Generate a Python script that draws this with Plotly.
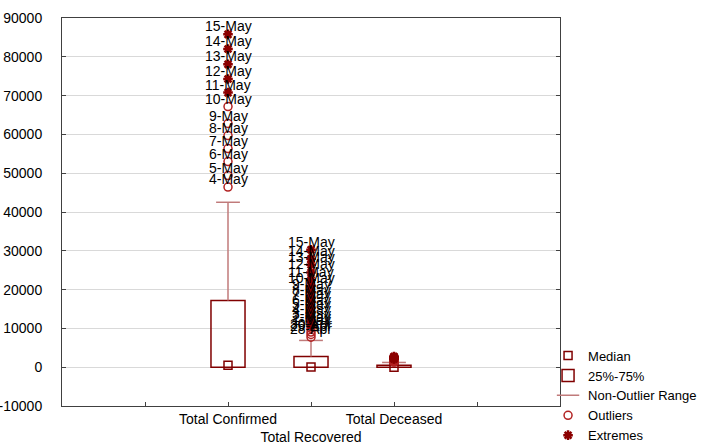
import plotly.graph_objects as go

# ---------------- data ----------------
categories = ["Total Confirmed", "Total Recovered", "Total Deceased"]
q1 = [3, 0, 0]
medians = [499, 45, 10]
q3 = [17200, 2750, 520]
non_outlier_max = [42505, 6900, 1223]

conf_outlier_dates = ["4-May", "5-May", "6-May", "7-May", "8-May", "9-May", "10-May"]
conf_outlier_vals = [46437, 49400, 52987, 56351, 59695, 62808, 67161]
conf_extreme_dates = ["11-May", "12-May", "13-May", "14-May", "15-May"]
conf_extreme_vals = [70768, 74292, 78055, 81997, 85784]

rec_outlier_dates = ["28-Apr", "29-Apr", "30-Apr", "1-May"]
rec_outlier_vals = [7747, 8437, 9068, 10007]
rec_extreme_dates = ["2-May", "3-May", "4-May", "5-May", "6-May", "7-May", "8-May",
                     "9-May", "10-May", "11-May", "12-May", "13-May", "14-May", "15-May"]
rec_extreme_vals = [10819, 11775, 12847, 14142, 15331, 16776, 17887,
                    19301, 20969, 22549, 24420, 26400, 27969, 30258]

dec_outlier_vals = [1323, 1391, 1583, 1694, 1783, 1889, 1985]
dec_extreme_vals = [2109, 2212, 2294, 2415, 2551, 2649, 2752]

y_tick_vals = [-10000, 0, 10000, 20000, 30000, 40000, 50000, 60000, 70000, 80000, 90000]

# ---------------- styling ----------------
FONT = "Arial, Liberation Sans, sans-serif"
BOX_C = "#800000"
WHISK_C = "#c07a7a"
OUT_C = "#b22222"
EXT_C = "#8b0000"
AXIS_C = "#404040"

pos = [i + 2 for i in range(len(categories))]

fig = go.Figure()

# 25%-75% boxes
fig.add_trace(go.Bar(
    x=pos, base=q1, y=[b - a for a, b in zip(q1, q3)], width=0.41,
    marker=dict(color="rgba(0,0,0,0)", line=dict(color=BOX_C, width=1.5)),
    name="25%-75%", legendrank=2, hoverinfo="skip"))

# whisker lines
wx, wy = [], []
for p, a, b in zip(pos, q3, non_outlier_max):
    wx += [p, p, None]
    wy += [a, b, None]
fig.add_trace(go.Scatter(x=wx, y=wy, mode="lines", line=dict(color=WHISK_C, width=1.5),
                         showlegend=False, hoverinfo="skip"))
# whisker caps
fig.add_trace(go.Scatter(
    x=pos, y=non_outlier_max, mode="markers",
    marker=dict(symbol="line-ew-open", size=17, color=WHISK_C, line=dict(color=WHISK_C, width=1.5)),
    name="Non-Outlier Range", legendrank=3))

# medians
fig.add_trace(go.Scatter(
    x=pos, y=medians, mode="markers",
    marker=dict(symbol="square-open", size=8, color=BOX_C, line=dict(width=1.5, color=BOX_C)),
    name="Median", legendrank=1))

# outliers
ox = [pos[0]] * len(conf_outlier_vals) + [pos[1]] * len(rec_outlier_vals) + [pos[2]] * len(dec_outlier_vals)
oy = conf_outlier_vals + rec_outlier_vals + dec_outlier_vals
ot = conf_outlier_dates + rec_outlier_dates + [""] * len(dec_outlier_vals)
fig.add_trace(go.Scatter(
    x=ox, y=oy, mode="markers",
    marker=dict(symbol="circle-open", size=8, color=OUT_C, line=dict(width=1.5, color=OUT_C)),
    name="Outliers", legendrank=4))

# extremes
ex = [pos[0]] * len(conf_extreme_vals) + [pos[1]] * len(rec_extreme_vals) + [pos[2]] * len(dec_extreme_vals)
ey = conf_extreme_vals + rec_extreme_vals + dec_extreme_vals
et = conf_extreme_dates + rec_extreme_dates + [""] * len(dec_extreme_vals)
fig.add_trace(go.Scatter(
    x=ex, y=ey, mode="markers",
    marker=dict(symbol="asterisk-open", size=8, color=EXT_C, line=dict(width=2.5, color=EXT_C)),
    name="Extremes", legendrank=5))

# date labels for outliers and extremes
for xs, ys, ts in ((ox, oy, ot), (ex, ey, et)):
    for xv, yv, tv in zip(xs, ys, ts):
        if tv:
            fig.add_annotation(x=xv, y=yv, text=tv, showarrow=False, yshift=8,
                               xanchor="center", yanchor="middle",
                               font=dict(family=FONT, size=14, color="black"))

ticktext = [""] + [categories[0], " <br>" + categories[1], categories[2]] + [""]

fig.update_layout(
    width=702, height=443,
    margin=dict(l=62, r=142, t=18, b=37, autoexpand=False),
    paper_bgcolor="white", plot_bgcolor="white",
    font=dict(family=FONT, size=14, color="black"),
    showlegend=True,
    legend=dict(x=0.976, xanchor="left", y=-0.115, yanchor="bottom",
                font=dict(family=FONT, size=13, color="black"),
                itemwidth=30, bgcolor="rgba(0,0,0,0)", borderwidth=0),
    xaxis=dict(range=[0, 6], tickvals=[1, 2, 3, 4, 5], ticktext=ticktext, tickangle=0,
               automargin=False,
               showgrid=False, zeroline=False, showline=True, linecolor=AXIS_C, linewidth=1,
               mirror=True, ticks="inside", ticklen=4, tickcolor=AXIS_C, ticklabelstandoff=0),
    yaxis=dict(range=[-10000, 90000], tickvals=y_tick_vals, ticktext=[str(v) for v in y_tick_vals],
               automargin=False,
               showgrid=True, gridcolor="#d9d9d9", gridwidth=1, zeroline=False,
               showline=True, linecolor=AXIS_C, linewidth=1, mirror="ticks",
               ticks="inside", ticklen=4, tickcolor=AXIS_C, ticklabelstandoff=16),
)

fig.write_html("out.html", config={"displayModeBar": False},
               post_script="document.body.style.margin='0';document.body.style.padding='0';")
